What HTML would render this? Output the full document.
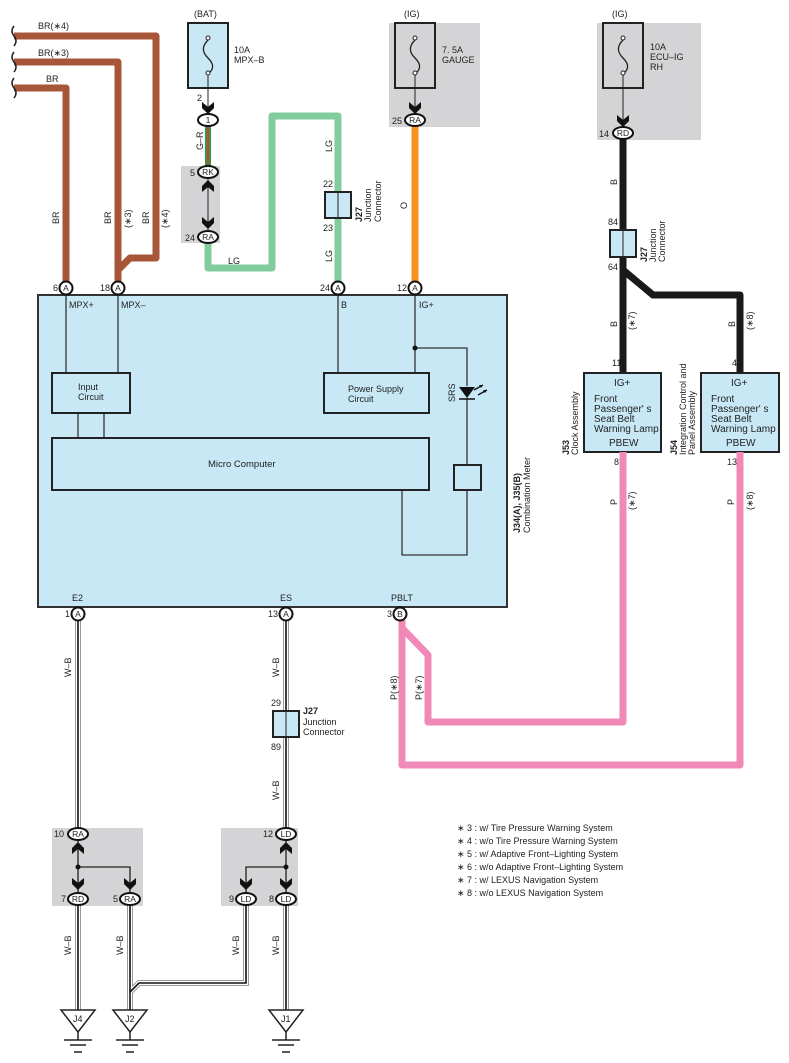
<!DOCTYPE html>
<html><head><meta charset="utf-8"><style>
html,body{margin:0;padding:0;background:#fff}
svg{display:block}
text{font-family:"Liberation Sans",sans-serif;fill:#222}
</style></head><body>
<svg width="789" height="1063" viewBox="0 0 789 1063" xmlns="http://www.w3.org/2000/svg">
<defs>
<g id="dn"><path d="M-6,-8 L0,-3 L6,-8 L6,-2 L0,4 L-6,-2 Z" fill="#111"/></g>
<g id="up"><path d="M-6,8 L0,3 L6,8 L6,2 L0,-4 L-6,2 Z" fill="#111"/></g>
</defs>
<style>
.s9{font-size:9px}.s10{font-size:10px}.b{font-weight:bold}
</style>

<!-- gray boxes -->
<rect x="389" y="23" width="91" height="104" fill="#d4d4d6"/>
<rect x="597" y="23" width="104" height="117" fill="#d4d4d6"/>
<rect x="181" y="166" width="39" height="77" fill="#d4d4d6"/>
<rect x="52" y="828" width="91" height="78" fill="#d4d4d6"/>
<rect x="221" y="828" width="77" height="78" fill="#d4d4d6"/>

<!-- brown wires -->
<g fill="none" stroke="#a8563a" stroke-width="7" stroke-linejoin="round">
<path d="M14,36 H156 V258 H130 L118,270 V284"/>
<path d="M14,62 H118 V284"/>
<path d="M14,88 H66 V284"/>
</g>
<g fill="none" stroke="#222" stroke-width="1.5">
<path d="M14,26 q-4,5 0,10 q4,5 0,10"/>
<path d="M14,52 q-4,5 0,10 q4,5 0,10"/>
<path d="M14,78 q-4,5 0,10 q4,5 0,10"/>
</g>
<text x="38" y="29" class="s9">BR(∗4)</text>
<text x="38" y="56" class="s9">BR(∗3)</text>
<text x="46" y="82" class="s9">BR</text>
<text class="s9" transform="translate(59,224) rotate(-90)">BR</text>
<text class="s9" transform="translate(111,224) rotate(-90)">BR</text>
<text class="s9" transform="translate(131,228) rotate(-90)">(∗3)</text>
<text class="s9" transform="translate(149,224) rotate(-90)">BR</text>
<text class="s9" transform="translate(168,228) rotate(-90)">(∗4)</text>

<!-- BAT fuse -->
<text x="194" y="17" class="s9">(BAT)</text>
<rect x="188" y="23" width="40" height="65" fill="#c8e8f6" stroke="#222" stroke-width="2"/>
<text x="234" y="53" class="s9">10A</text><text x="234" y="63" class="s9">MPX–B</text>
<g fill="none" stroke="#222" stroke-width="1.3"><path d="M208,40 c-8,8 -4,14 0,18 c4,4 8,10 0,16"/></g>
<circle cx="208" cy="38" r="2" fill="#fff" stroke="#222"/><circle cx="208" cy="73" r="2" fill="#fff" stroke="#222"/>
<line x1="208" y1="75" x2="208" y2="110" stroke="#222" stroke-width="1"/>
<use href="#dn" x="208" y="110"/>
<text x="197" y="101" class="s9">2</text>
<!-- G-R wire -->
<rect x="205" y="126" width="6" height="40" fill="#1aa34a"/>
<rect x="207" y="126" width="2" height="40" fill="#e8352e"/>
<text class="s9" transform="translate(203,150) rotate(-90)">G–R</text>
<!-- RK/RA -->
<line x1="208" y1="178" x2="208" y2="231" stroke="#222" stroke-width="1"/>
<use href="#up" x="208" y="184"/><use href="#dn" x="208" y="225"/>
<text x="190" y="176" class="s9">5</text><text x="185" y="241" class="s9">24</text>

<!-- LG wire -->
<path d="M208,243 V268 H272 V116 H338 V284" fill="none" stroke="#80cc9c" stroke-width="7" stroke-linejoin="round"/>
<text x="228" y="264" class="s9">LG</text>
<text class="s9" transform="translate(332,152) rotate(-90)">LG</text>
<text class="s9" transform="translate(332,262) rotate(-90)">LG</text>
<rect x="325" y="192" width="26" height="26" fill="#c8e8f6" stroke="#222" stroke-width="2"/>
<line x1="338" y1="192" x2="338" y2="218" stroke="#222"/>
<text x="323" y="187" class="s9">22</text><text x="323" y="231" class="s9">23</text>
<text class="s9 b" transform="translate(362,222) rotate(-90)">J27</text>
<text class="s9" transform="translate(371,222) rotate(-90)">Junction</text>
<text class="s9" transform="translate(381,222) rotate(-90)">Connector</text>

<!-- GAUGE fuse -->
<text x="404" y="17" class="s9">(IG)</text>
<rect x="395" y="23" width="40" height="65" fill="#d4d4d6" stroke="#222" stroke-width="2"/>
<g fill="none" stroke="#222" stroke-width="1.3"><path d="M415,40 c-8,8 -4,14 0,18 c4,4 8,10 0,16"/></g>
<circle cx="415" cy="38" r="2" fill="#fff" stroke="#222"/><circle cx="415" cy="73" r="2" fill="#fff" stroke="#222"/>
<line x1="415" y1="75" x2="415" y2="110" stroke="#222"/>
<use href="#dn" x="415" y="110"/>
<text x="442" y="53" class="s9">7. 5A</text><text x="442" y="63" class="s9">GAUGE</text>
<text x="392" y="124" class="s9">25</text>
<line x1="415" y1="126" x2="415" y2="282" stroke="#f7941d" stroke-width="7"/>
<text class="s9" transform="translate(407,209) rotate(-90)">O</text>

<!-- ECU-IG fuse -->
<text x="612" y="17" class="s9">(IG)</text>
<rect x="603" y="23" width="40" height="65" fill="#d4d4d6" stroke="#222" stroke-width="2"/>
<g fill="none" stroke="#222" stroke-width="1.3"><path d="M623,40 c-8,8 -4,14 0,18 c4,4 8,10 0,16"/></g>
<circle cx="623" cy="38" r="2" fill="#fff" stroke="#222"/><circle cx="623" cy="73" r="2" fill="#fff" stroke="#222"/>
<line x1="623" y1="75" x2="623" y2="124" stroke="#222"/>
<use href="#dn" x="623" y="123"/>
<text x="650" y="50" class="s9">10A</text><text x="650" y="60" class="s9">ECU–IG</text><text x="650" y="70" class="s9">RH</text>
<text x="599" y="137" class="s9">14</text>
<path d="M623,139 V372 M623,270 L653,295 H740 V372" fill="none" stroke="#1a1a1a" stroke-width="7" stroke-linejoin="round"/>
<text class="s9" transform="translate(617,185) rotate(-90)">B</text>
<rect x="610" y="230" width="26" height="27" fill="#c8e8f6" stroke="#222" stroke-width="2"/>
<line x1="623" y1="230" x2="623" y2="257" stroke="#222"/>
<text x="608" y="225" class="s9">84</text><text x="608" y="270" class="s9">64</text>
<text class="s9 b" transform="translate(647,262) rotate(-90)">J27</text>
<text class="s9" transform="translate(656,262) rotate(-90)">Junction</text>
<text class="s9" transform="translate(665,262) rotate(-90)">Connector</text>
<text class="s9" transform="translate(617,327) rotate(-90)">B</text>
<text class="s9" transform="translate(635,330) rotate(-90)">(∗7)</text>
<text class="s9" transform="translate(735,327) rotate(-90)">B</text>
<text class="s9" transform="translate(753,330) rotate(-90)">(∗8)</text>

<!-- J53 / J54 -->
<rect x="584" y="373" width="77" height="79" fill="#c8e8f6" stroke="#222" stroke-width="2"/>
<rect x="701" y="373" width="78" height="79" fill="#c8e8f6" stroke="#222" stroke-width="2"/>
<text x="612" y="366" class="s9">11</text><text x="732" y="366" class="s9">4</text>
<g>
<text x="614" y="386" style="font-size:10px">IG+</text>
<text x="594" y="402" style="font-size:10px">Front</text>
<text x="594" y="412" style="font-size:10px">Passenger' s</text>
<text x="594" y="422" style="font-size:10px">Seat Belt</text>
<text x="594" y="432" style="font-size:10px">Warning Lamp</text>
<text x="609" y="446" style="font-size:10px">PBEW</text>
<text x="731" y="386" style="font-size:10px">IG+</text>
<text x="711" y="402" style="font-size:10px">Front</text>
<text x="711" y="412" style="font-size:10px">Passenger' s</text>
<text x="711" y="422" style="font-size:10px">Seat Belt</text>
<text x="711" y="432" style="font-size:10px">Warning Lamp</text>
<text x="726" y="446" style="font-size:10px">PBEW</text>
</g>
<text class="s9 b" transform="translate(569,455) rotate(-90)">J53</text>
<text class="s9" transform="translate(578,455) rotate(-90)">Clock Assembly</text>
<text class="s9 b" transform="translate(677,455) rotate(-90)">J54</text>
<text class="s9" transform="translate(686,455) rotate(-90)">Integration Control and</text>
<text class="s9" transform="translate(695,455) rotate(-90)">Panel Assembly</text>
<text x="614" y="465" class="s9">8</text><text x="727" y="465" class="s9">13</text>

<!-- pink wires -->
<g fill="none" stroke="#f088b8" stroke-width="7" stroke-linejoin="round">
<path d="M623,452 V722 H428 V655 L402,628"/>
<path d="M740,452 V765 H402 V620"/>
</g>
<text class="s9" transform="translate(617,505) rotate(-90)">P</text>
<text class="s9" transform="translate(635,510) rotate(-90)">(∗7)</text>
<text class="s9" transform="translate(734,505) rotate(-90)">P</text>
<text class="s9" transform="translate(753,510) rotate(-90)">(∗8)</text>
<text class="s9" transform="translate(397,700) rotate(-90)">P(∗8)</text>
<text class="s9" transform="translate(422,700) rotate(-90)">P(∗7)</text>

<!-- Meter -->
<rect x="38" y="295" width="469" height="312" fill="#c8e8f6" stroke="#333" stroke-width="2"/>
<g stroke="#333" stroke-width="1.3" fill="none">
<path d="M66,295 V373 M118,295 V373 M338,295 V373 M415,295 V373"/>
<path d="M415,348 H467 V386 M467,398 V465 M467,490 V555 H402 V490"/>
<path d="M78,413 V438 M104,413 V438"/>
</g>
<rect x="52" y="373" width="78" height="40" fill="#c8e8f6" stroke="#222" stroke-width="2"/>
<rect x="324" y="373" width="105" height="40" fill="#c8e8f6" stroke="#222" stroke-width="2"/>
<rect x="52" y="438" width="377" height="52" fill="#c8e8f6" stroke="#222" stroke-width="2"/>
<rect x="454" y="465" width="27" height="25" fill="#c8e8f6" stroke="#222" stroke-width="2"/>
<circle cx="415" cy="348" r="2.5" fill="#111"/>
<path d="M459,387 H475 L467,398 Z" fill="#111"/>
<line x1="459" y1="399" x2="475" y2="399" stroke="#111" stroke-width="1.5"/>
<path d="M474,390 L483,385 M478,395 L487,390" stroke="#111" stroke-width="1.3"/>
<path d="M483,385 l-4,0 l2,3 Z M487,390 l-4,0 l2,3 Z" fill="#111"/>
<text class="s9" transform="translate(455,402) rotate(-90)">SRS</text>
<text x="69" y="308" class="s9">MPX+</text>
<text x="121" y="308" class="s9">MPX–</text>
<text x="341" y="308" class="s9">B</text>
<text x="419" y="308" class="s9">IG+</text>
<text x="78" y="390" class="s9">Input</text><text x="78" y="400" class="s9">Circuit</text>
<text x="348" y="392" class="s9">Power Supply</text><text x="348" y="402" class="s9">Circuit</text>
<text x="208" y="467" style="font-size:9.5px">Micro Computer</text>
<text x="72" y="601" class="s9">E2</text>
<text x="280" y="601" class="s9">ES</text>
<text x="391" y="601" class="s9">PBLT</text>
<text class="s9 b" transform="translate(520,533) rotate(-90)">J34(A), J35(B)</text>
<text class="s9" transform="translate(530,533) rotate(-90)">Combination Meter</text>

<!-- W-B wires -->
<g fill="none" stroke-linejoin="miter">
<g stroke="#9a9a9a" stroke-width="6">
<path d="M78,620 V829 M286,620 V829 M78,905 V1012 M130,905 V1012 M286,905 V1012 M246,905 V983 H139 L130,992"/>
</g>
<g stroke="#fff" stroke-width="4">
<path d="M78,620 V829 M286,620 V829 M78,905 V1012 M130,905 V1012 M286,905 V1012 M246,905 V983 H139 L130,992"/>
</g>
<g stroke="#111" stroke-width="1.6">
<path d="M78,620 V829 M286,620 V829 M78,905 V1012 M130,905 V1012 M286,905 V1012 M246,905 V983 H139 L130,992"/>
</g>
</g>
<rect x="273" y="711" width="26" height="26" fill="#c8e8f6" stroke="#222" stroke-width="2"/>
<line x1="286" y1="711" x2="286" y2="737" stroke="#222"/>
<text x="271" y="706" class="s9">29</text><text x="271" y="750" class="s9">89</text>
<text x="303" y="714" class="s9 b">J27</text>
<text x="303" y="725" class="s9">Junction</text>
<text x="303" y="735" class="s9">Connector</text>
<text class="s9" transform="translate(71,677) rotate(-90)">W–B</text>
<text class="s9" transform="translate(279,677) rotate(-90)">W–B</text>
<text class="s9" transform="translate(279,800) rotate(-90)">W–B</text>
<text class="s9" transform="translate(71,955) rotate(-90)">W–B</text>
<text class="s9" transform="translate(123,955) rotate(-90)">W–B</text>
<text class="s9" transform="translate(239,955) rotate(-90)">W–B</text>
<text class="s9" transform="translate(279,955) rotate(-90)">W–B</text>

<!-- splice internals -->
<g stroke="#222" stroke-width="1.3" fill="none">
<path d="M78,840 V893 M78,867 H130 V893 M286,840 V893 M286,867 H246 V893"/>
</g>
<circle cx="78" cy="867" r="2.5" fill="#111"/><circle cx="286" cy="867" r="2.5" fill="#111"/>
<use href="#up" x="78" y="846"/><use href="#dn" x="78" y="886"/><use href="#dn" x="130" y="886"/>
<use href="#up" x="286" y="846"/><use href="#dn" x="286" y="886"/><use href="#dn" x="246" y="886"/>
<text x="54" y="837" class="s9">10</text><text x="61" y="902" class="s9">7</text><text x="113" y="902" class="s9">5</text>
<text x="263" y="837" class="s9">12</text><text x="229" y="902" class="s9">9</text><text x="269" y="902" class="s9">8</text>

<!-- grounds -->
<g stroke="#222" stroke-width="1.5" fill="#fff">
<path d="M61,1010 H95 L78,1032 Z"/><path d="M113,1010 H147 L130,1032 Z"/><path d="M269,1010 H303 L286,1032 Z"/>
</g>
<g stroke="#222" stroke-width="1.5">
<path d="M78,1032 V1040 M64,1040 H92 M70,1045 H86 M74,1052 H82"/>
<path d="M130,1032 V1040 M116,1040 H144 M122,1045 H138 M126,1052 H134"/>
<path d="M286,1032 V1040 M272,1040 H300 M278,1045 H294 M282,1052 H290"/>
</g>
<text x="73" y="1022" class="s9">J4</text><text x="125" y="1022" class="s9">J2</text><text x="281" y="1022" class="s9">J1</text>

<!-- connectors -->
<g fill="#fff" stroke="#111" stroke-width="2">
<circle cx="66" cy="288" r="6.5"/><circle cx="118" cy="288" r="6.5"/><circle cx="338" cy="288" r="6.5"/><circle cx="415" cy="288" r="6.5"/>
<circle cx="78" cy="614" r="6.5"/><circle cx="286" cy="614" r="6.5"/><circle cx="400" cy="614" r="6.5"/>
<ellipse cx="208" cy="120" rx="10" ry="6"/>
<ellipse cx="208" cy="172" rx="10" ry="6"/><ellipse cx="208" cy="237" rx="10" ry="6"/>
<ellipse cx="415" cy="120" rx="10" ry="6"/><ellipse cx="623" cy="133" rx="10" ry="6"/>
<ellipse cx="78" cy="834" rx="10" ry="6"/><ellipse cx="78" cy="899" rx="10" ry="6"/><ellipse cx="130" cy="899" rx="10" ry="6"/>
<ellipse cx="286" cy="834" rx="10" ry="6"/><ellipse cx="246" cy="899" rx="10" ry="6"/><ellipse cx="286" cy="899" rx="10" ry="6"/>
</g>
<g text-anchor="middle" style="font-size:8.5px">
<text x="66" y="291">A</text><text x="118" y="291">A</text><text x="338" y="291">A</text><text x="415" y="291">A</text>
<text x="78" y="617">A</text><text x="286" y="617">A</text><text x="400" y="617">B</text>
<text x="208" y="123">1</text><text x="208" y="175">RK</text><text x="208" y="240">RA</text>
<text x="415" y="123">RA</text><text x="623" y="136">RD</text>
<text x="78" y="837">RA</text><text x="78" y="902">RD</text><text x="130" y="902">RA</text>
<text x="286" y="837">LD</text><text x="246" y="902">LD</text><text x="286" y="902">LD</text>
</g>
<g class="s9" text-anchor="end">
<text x="58" y="291">6</text><text x="110" y="291">18</text>
<text x="330" y="291">24</text><text x="407" y="291">12</text>
<text x="70" y="617">1</text><text x="278" y="617">13</text><text x="392" y="617">3</text>
</g>

<!-- legend -->
<g class="s9">
<text x="457" y="831">∗ 3 : w/ Tire Pressure Warning System</text>
<text x="457" y="844">∗ 4 : w/o Tire Pressure Warning System</text>
<text x="457" y="857">∗ 5 : w/ Adaptive Front–Lighting System</text>
<text x="457" y="870">∗ 6 : w/o Adaptive Front–Lighting System</text>
<text x="457" y="883">∗ 7 : w/ LEXUS Navigation System</text>
<text x="457" y="896">∗ 8 : w/o LEXUS Navigation System</text>
</g>
</svg>
</body></html>
